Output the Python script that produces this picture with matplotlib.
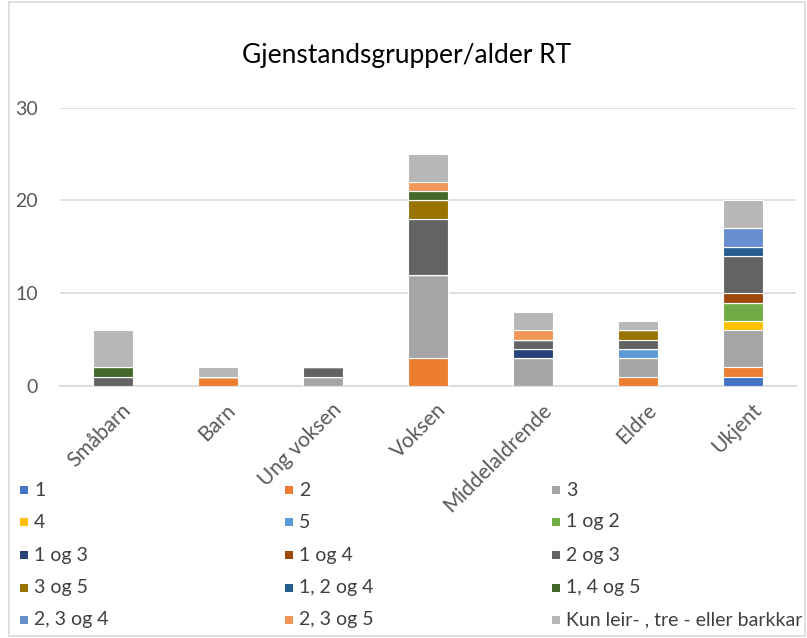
import matplotlib.pyplot as plt
from matplotlib.patches import Rectangle
from matplotlib.transforms import ScaledTranslation
import numpy as np

plt.rcParams['font.family'] = ['Lato', 'DejaVu Sans']

categories = ['Småbarn', 'Barn', 'Ung voksen', 'Voksen', 'Middelaldrende', 'Eldre', 'Ukjent']

series_names = ['1', '2', '3', '4', '5', '1 og 2', '1 og 3', '1 og 4', '2 og 3',
                '3 og 5', '1, 2 og 4', '1, 4 og 5', '2, 3 og 4', '2, 3 og 5',
                'Kun leir- , tre - eller barkkar']

# counts per age group, one list per find group
s_1 = [0, 0, 0, 0, 0, 0, 1]
s_2 = [0, 1, 0, 3, 0, 1, 1]
s_3 = [0, 0, 1, 9, 3, 2, 4]
s_4 = [0, 0, 0, 0, 0, 0, 1]
s_5 = [0, 0, 0, 0, 0, 1, 0]
s_1og2 = [0, 0, 0, 0, 0, 0, 2]
s_1og3 = [0, 0, 0, 0, 1, 0, 0]
s_1og4 = [0, 0, 0, 0, 0, 0, 1]
s_2og3 = [1, 0, 1, 6, 1, 1, 4]
s_3og5 = [0, 0, 0, 2, 0, 1, 0]
s_12og4 = [0, 0, 0, 0, 0, 0, 1]
s_14og5 = [1, 0, 0, 1, 0, 0, 0]
s_23og4 = [0, 0, 0, 0, 0, 0, 2]
s_23og5 = [0, 0, 0, 1, 1, 0, 0]
s_kun = [4, 1, 0, 3, 2, 1, 3]

values = [s_1, s_2, s_3, s_4, s_5, s_1og2, s_1og3, s_1og4, s_2og3,
          s_3og5, s_12og4, s_14og5, s_23og4, s_23og5, s_kun]

colors = ['#4472C4', '#ED7D31', '#A5A5A5', '#FFC000', '#5B9BD5', '#70AD47',
          '#264478', '#9E480E', '#636363', '#997300', '#255E91', '#43682B',
          '#698ED0', '#F1975A', '#B7B7B7']

W, H = 807, 638
fig = plt.figure(figsize=(W / 100, H / 100), dpi=100)
ax = fig.add_axes([60 / W, 1 - 386 / H, 736 / W, (386 - 107.7) / H])

x = np.arange(len(categories))
bottom = np.zeros(len(categories))
for name, vals, c in zip(series_names, values, colors):
    vals = np.array(vals, dtype=float)
    ax.bar(x, vals, 0.38, bottom=bottom, color=c, edgecolor='white',
           linewidth=0.8, label=name, zorder=3)
    bottom += vals

ax.set_xlim(-0.5, len(categories) - 0.5)
ax.set_ylim(0, 30)
ax.set_yticks([0, 10, 20, 30])
ax.yaxis.grid(True, color='#D9D9D9', linewidth=1.2, zorder=0)
for s in ['top', 'right', 'left']:
    ax.spines[s].set_visible(False)
ax.spines['bottom'].set_color('#D9D9D9')
ax.spines['bottom'].set_linewidth(1.2)
ax.tick_params(axis='both', length=0, labelsize=14, labelcolor='#595959')
ax.tick_params(axis='y', pad=16)
ax.set_xticks(x)
ax.set_xticklabels(categories, rotation=45, ha='right', rotation_mode='anchor',
                   fontsize=15)
ax.tick_params(axis='x', pad=10)
# nudge the slanted labels so they end just right of each tick
shift = ScaledTranslation(8 / 100, 0, fig.dpi_scale_trans)
for lbl in ax.get_xticklabels():
    lbl.set_transform(lbl.get_transform() + shift)

fig.text(407 / W, 1 - 55 / H, 'Gjenstandsgrupper/alder RT', ha='center',
         va='center', fontsize=19, color='#000000')

# legend in three columns below the plot
col_x = [20, 285, 552]
row_y = [490, 522, 555, 588, 620]
for i, (name, c) in enumerate(zip(series_names, colors)):
    cx = col_x[i % 3]
    cy = row_y[i // 3]
    fig.patches.append(Rectangle((cx / W, 1 - (cy + 4) / H), 8 / W, 8 / H,
                                 transform=fig.transFigure, facecolor=c,
                                 edgecolor='none'))
    fig.text((cx + 14) / W, 1 - cy / H, name, ha='left', va='center',
             fontsize=14, color='#404040')

fig.patches.append(Rectangle((9 / W, 2 / H), (805 - 9) / W, (H - 4) / H,
                             transform=fig.transFigure, facecolor='none',
                             edgecolor='#D9D9D9', linewidth=1.2))

fig.savefig('out.png', dpi=100)
